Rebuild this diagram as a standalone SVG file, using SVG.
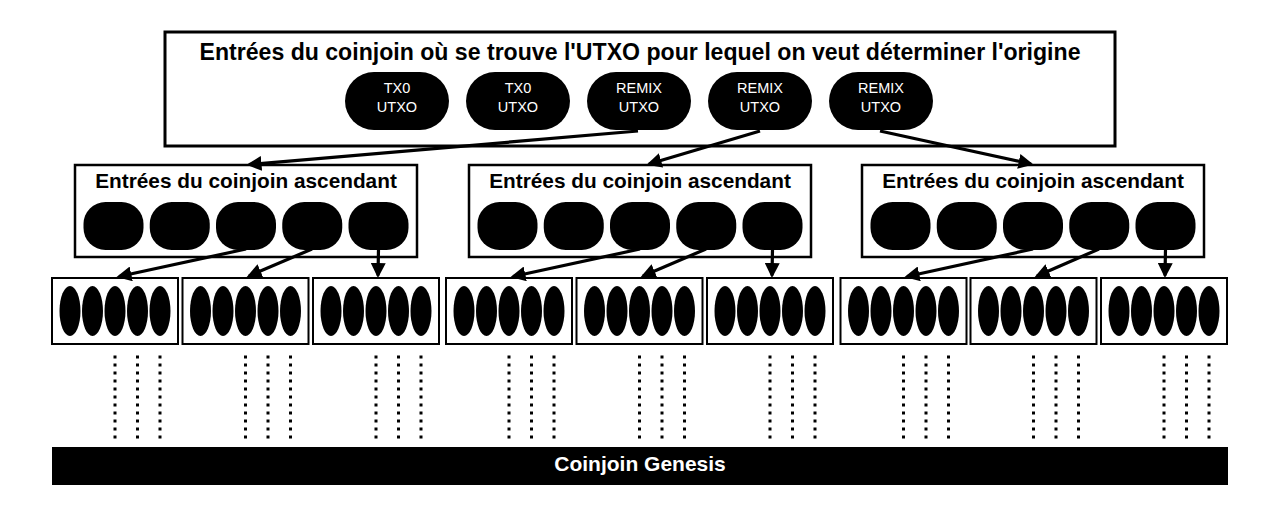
<svg xmlns="http://www.w3.org/2000/svg" width="1280" height="516" viewBox="0 0 1280 516">
  <style>
    .box{fill:#fff;stroke:#000}
    .title{font-family:"Liberation Sans",Arial,sans-serif;font-weight:bold;fill:#000;text-anchor:middle}
    .pilltxt{font-family:"Liberation Sans",Arial,sans-serif;font-size:14.5px;fill:#fff;text-anchor:middle}
    .blob{fill:#000}
    .conn{stroke:#000;stroke-width:3.2;fill:none;marker-end:url(#arr)}
    .dots{stroke:#000;stroke-width:3;stroke-dasharray:3 5}
  </style>
  <defs>
    <marker id="arr" viewBox="0 0 12 12" refX="10" refY="6" markerWidth="15" markerHeight="15" markerUnits="userSpaceOnUse" orient="auto">
      <path d="M0,0 L12,6 L0,12 z" fill="#000"/>
    </marker>
    <g id="row5">
      <ellipse cx="-45" cy="0" rx="10.5" ry="25"/>
      <ellipse cx="-22.5" cy="0" rx="10.5" ry="25"/>
      <ellipse cx="0" cy="0" rx="10.5" ry="25"/>
      <ellipse cx="22.5" cy="0" rx="10.5" ry="25"/>
      <ellipse cx="45" cy="0" rx="10.5" ry="25"/>
    </g>
    <g id="dots3">
      <line x1="0" y1="355.5" x2="0" y2="438.5"/>
      <line x1="22.5" y1="355.5" x2="22.5" y2="438.5"/>
      <line x1="45" y1="355.5" x2="45" y2="438.5"/>
    </g>
    <g id="mblobs">
      <rect x="0" y="0" width="60" height="48" rx="22"/>
      <rect x="66.25" y="0" width="60" height="48" rx="22"/>
      <rect x="132.5" y="0" width="60" height="48" rx="22"/>
      <rect x="198.75" y="0" width="60" height="48" rx="22"/>
      <rect x="265" y="0" width="60" height="48" rx="22"/>
    </g>
  </defs>

  <g id="top">
    <rect class="box" x="165" y="32" width="950" height="114" stroke-width="3"/>
    <text class="title" x="640" y="60" font-size="23.1">Entrées du coinjoin où se trouve l'UTXO pour lequel on veut déterminer l'origine</text>
    <g id="pill1"><rect x="345" y="72" width="104" height="58" rx="29" fill="#000"/><text class="pilltxt" x="397" y="93">TX0</text><text class="pilltxt" x="397" y="112">UTXO</text></g>
    <g id="pill2"><rect x="466" y="72" width="104" height="58" rx="29" fill="#000"/><text class="pilltxt" x="518" y="93">TX0</text><text class="pilltxt" x="518" y="112">UTXO</text></g>
    <g id="pill3"><rect x="587" y="72" width="104" height="58" rx="29" fill="#000"/><text class="pilltxt" x="639" y="93">REMIX</text><text class="pilltxt" x="639" y="112">UTXO</text></g>
    <g id="pill4"><rect x="708" y="72" width="104" height="58" rx="29" fill="#000"/><text class="pilltxt" x="760" y="93">REMIX</text><text class="pilltxt" x="760" y="112">UTXO</text></g>
    <g id="pill5"><rect x="829" y="72" width="104" height="58" rx="29" fill="#000"/><text class="pilltxt" x="881" y="93">REMIX</text><text class="pilltxt" x="881" y="112">UTXO</text></g>
  </g>

  <g id="mid1">
    <rect class="box" x="75" y="165" width="342" height="92" stroke-width="2.5"/>
    <text class="title" x="246" y="188" font-size="20.8">Entrées du coinjoin ascendant</text>
    <use href="#mblobs" x="83.5" y="202" class="blob"/>
  </g>
  <g id="mid2">
    <rect class="box" x="469" y="165" width="342" height="92" stroke-width="2.5"/>
    <text class="title" x="640" y="188" font-size="20.8">Entrées du coinjoin ascendant</text>
    <use href="#mblobs" x="477.5" y="202" class="blob"/>
  </g>
  <g id="mid3">
    <rect class="box" x="862" y="165" width="342" height="92" stroke-width="2.5"/>
    <text class="title" x="1033" y="188" font-size="20.8">Entrées du coinjoin ascendant</text>
    <use href="#mblobs" x="870.5" y="202" class="blob"/>
  </g>

  <g id="b1"><rect class="box" x="52" y="278" width="126" height="66" stroke-width="2"/><use href="#row5" x="115" y="311"/></g>
  <g id="b2"><rect class="box" x="182.5" y="278" width="126" height="66" stroke-width="2"/><use href="#row5" x="245.5" y="311"/></g>
  <g id="b3"><rect class="box" x="313" y="278" width="126" height="66" stroke-width="2"/><use href="#row5" x="376" y="311"/></g>
  <g id="b4"><rect class="box" x="446" y="278" width="126" height="66" stroke-width="2"/><use href="#row5" x="509" y="311"/></g>
  <g id="b5"><rect class="box" x="576.5" y="278" width="126" height="66" stroke-width="2"/><use href="#row5" x="639.5" y="311"/></g>
  <g id="b6"><rect class="box" x="707" y="278" width="126" height="66" stroke-width="2"/><use href="#row5" x="770" y="311"/></g>
  <g id="b7"><rect class="box" x="840.5" y="278" width="126" height="66" stroke-width="2"/><use href="#row5" x="903.5" y="311"/></g>
  <g id="b8"><rect class="box" x="970.5" y="278" width="126" height="66" stroke-width="2"/><use href="#row5" x="1033.5" y="311"/></g>
  <g id="b9"><rect class="box" x="1101" y="278" width="126" height="66" stroke-width="2"/><use href="#row5" x="1164" y="311"/></g>

  <g id="dotted" class="dots">
    <use href="#dots3" x="115"/>
    <use href="#dots3" x="245.5"/>
    <use href="#dots3" x="376"/>
    <use href="#dots3" x="509"/>
    <use href="#dots3" x="639.5"/>
    <use href="#dots3" x="770"/>
    <use href="#dots3" x="903.5"/>
    <use href="#dots3" x="1033.5"/>
    <use href="#dots3" x="1164"/>
  </g>

  <g id="genesis">
    <rect x="52" y="447" width="1176" height="38" fill="#000"/>
    <text class="title" x="640" y="471" font-size="21" style="fill:#fff">Coinjoin Genesis</text>
  </g>

  <g id="connectors">
    <line class="conn" x1="638" y1="131" x2="249" y2="164.5"/>
    <line class="conn" x1="760" y1="131" x2="649" y2="164"/>
    <line class="conn" x1="880" y1="131" x2="1031" y2="164"/>
    <line class="conn" x1="246" y1="249" x2="119" y2="276.5"/>
    <line class="conn" x1="312" y1="249" x2="249" y2="276"/>
    <line class="conn" x1="378.5" y1="249" x2="378" y2="275.5"/>
    <line class="conn" x1="640" y1="249" x2="513" y2="276.5"/>
    <line class="conn" x1="706" y1="249" x2="643" y2="276"/>
    <line class="conn" x1="772.5" y1="249" x2="772" y2="275.5"/>
    <line class="conn" x1="1033" y1="249" x2="907" y2="276.5"/>
    <line class="conn" x1="1099" y1="249" x2="1037" y2="276"/>
    <line class="conn" x1="1165.5" y1="249" x2="1165" y2="275.5"/>
  </g>
</svg>
